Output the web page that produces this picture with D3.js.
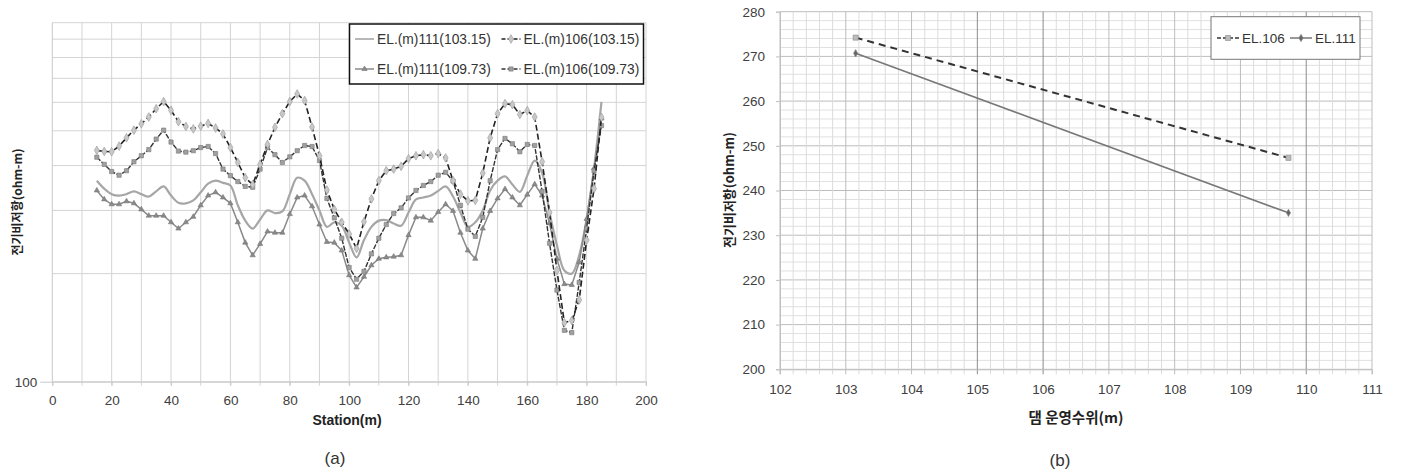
<!DOCTYPE html>
<html>
<head>
<meta charset="utf-8">
<script src="https://cdn.jsdelivr.net/npm/d3@7"></script>
<style>
  body { margin: 0; background: #fff; }
  svg text { font-family: "Liberation Sans", Arial, sans-serif; fill: #404040; }
  .kr { font-family: "Noto Sans CJK KR", sans-serif; font-weight: bold; fill: #222; }
</style>
</head>
<body>
<script>
const width = 1404,
      height = 471;

// ---------- chart (a) data ----------
const stations = [15,17.5,20,22.5,25,27.5,30,32.5,35,37.5,40,42.5,45,47.5,50,52.5,55,57.5,60,62.5,
  65,67.5,70,72.5,75,77.5,80,82.5,85,87.5,90,92.5,95,97.5,100,102.5,105,107.5,110,112.5,
  115,117.5,120,122.5,125,127.5,130,132.5,135,137.5,140,142.5,145,147.5,150,152.5,155,157.5,160,162.5,
  165,167.5,170,172.5,175,177.5,180,182.5,185];

const el111_10315 = [363,345,333,330,333,339,333,328,339,350,330,315,314,320,337,356,363,358,352,310,
  281,267,283,300,295,298,333,370,363,333,300,270,278,272,244,222,248,270,281,282,
  276,272,296,322,326,330,340,350,328,296,270,278,300,341,363,373,354,338,375,413,
  382,296,240,204,200,225,284,393,602];

const el106_10315 = [441,438,437,453,478,502,523,546,576,603,570,530,514,506,515,524,509,490,449,408,
  370,354,403,458,511,558,603,633,607,512,426,342,302,278,258,235,279,323,363,387,
  391,398,418,426,429,426,432,420,363,333,319,320,381,478,558,595,591,555,569,546,
  410,296,204,146,148,169,248,345,545];

const el111_10973 = [341,322,312,312,318,314,302,290,290,290,278,267,278,288,310,330,337,326,314,278,
  244,225,242,262,260,260,293,326,330,308,274,245,244,232,198,183,196,211,220,222,
  223,225,256,287,287,281,297,312,299,260,232,220,267,299,324,344,326,310,332,355,
  330,276,220,187,186,215,284,393,541];

const el106_10973 = [422,403,385,376,387,410,426,443,474,502,465,439,436,440,449,452,432,391,375,361,
  350,348,391,449,429,408,423,440,455,452,413,324,286,251,208,193,203,227,251,274,
  294,305,325,341,352,361,376,383,362,310,266,254,287,363,443,476,460,437,458,455,
  339,243,180,139,137,189,267,387,517];

const seriesA = [
  { name: "EL.(m)111(103.15)", values: el111_10315 },
  { name: "EL.(m)106(103.15)", values: el106_10315 },
  { name: "EL.(m)111(109.73)", values: el111_10973 },
  { name: "EL.(m)106(109.73)", values: el106_10973 }
];

// ---------- chart (b) data ----------
const waterLevels = [103.15, 109.73];
const el106 = [274.2, 247.3];
const el111 = [270.7, 235.0];

const svg = d3.select("body")
  .append("svg")
  .attr("width", width)
  .attr("height", height);

/* ------------- CHART (a) ------------ */

const xA = d3.scaleLinear().domain([0, 200]).range([52.3, 646]);
const yA = d3.scaleLog().domain([100, 1000]).range([381.7, 22.7]);

const ga = svg.append("g");

ga.append("g").selectAll("line")
  .data(d3.range(10, 201, 10))
  .enter().append("line")
  .attr("x1", d => xA(d)).attr("x2", d => xA(d))
  .attr("y1", yA(1000)).attr("y2", yA(100) + 4)
  .attr("stroke", "#d4d4d4").attr("stroke-width", 1);

ga.append("g").selectAll("line")
  .data(yA.ticks())
  .enter().append("line")
  .attr("x1", xA(0)).attr("x2", xA(200))
  .attr("y1", d => yA(d)).attr("y2", d => yA(d))
  .attr("stroke", "#d4d4d4").attr("stroke-width", 1);

ga.append("line")
  .attr("x1", xA(0)).attr("x2", xA(0))
  .attr("y1", yA(1000)).attr("y2", yA(100))
  .attr("stroke", "#c8c8c8");

const xAxisA = ga.append("g")
  .attr("transform", "translate(0," + yA(100) + ")")
  .call(d3.axisBottom(xA).tickValues(d3.range(0, 201, 20)).tickSize(4).tickPadding(10));
xAxisA.select(".domain").attr("stroke", "#c8c8c8");
xAxisA.selectAll(".tick line").attr("stroke", "#c8c8c8");
xAxisA.selectAll("text").style("font-size", "13.5px");

const yAxisA = ga.append("g")
  .attr("transform", "translate(" + xA(0) + ",0)")
  .call(d3.axisLeft(yA).tickValues([100]).tickFormat(d3.format("d")).tickSize(12).tickPadding(3));
yAxisA.select(".domain").remove();
yAxisA.selectAll(".tick line").attr("stroke", "#c8c8c8");
yAxisA.selectAll("text").style("font-size", "13.5px");

ga.append("text")
  .attr("x", 347).attr("y", 425)
  .attr("text-anchor", "middle")
  .style("font-size", "14px").style("font-weight", "bold").style("fill", "#222")
  .text("Station(m)");

ga.append("text")
  .attr("class", "kr")
  .attr("transform", "translate(22,202) rotate(-90)")
  .attr("text-anchor", "middle")
  .style("font-size", "12px")
  .text("전기비저항(ohm-m)");

ga.append("text")
  .attr("x", 335).attr("y", 464)
  .attr("text-anchor", "middle")
  .style("font-size", "17px").style("fill", "#333")
  .text("(a)");

const styleA = [
  { stroke: "#a6a6a6", width: 2.2, dash: null, curve: d3.curveCatmullRom.alpha(0.5), marker: null },
  { stroke: "#222", width: 1.6, dash: "6,3", curve: d3.curveLinear, marker: "diamond" },
  { stroke: "#8a8a8a", width: 1.5, dash: null, curve: d3.curveLinear, marker: "triangle" },
  { stroke: "#333", width: 1.4, dash: "5,1.5", curve: d3.curveLinear, marker: "square" }
];

const markerFill = { diamond: "#c8c8c8", square: "#a0a0a0", triangle: "#8a8a8a" };
const markerStroke = { diamond: "#999", square: "#777", triangle: "#777" };
const symbolType = { diamond: d3.symbolDiamond, square: d3.symbolSquare, triangle: d3.symbolTriangle };
const symbolSize = { diamond: 22, square: 18, triangle: 12 };

const drawOrder = [0, 2, 3, 1];
drawOrder.forEach(i => {
  const s = seriesA[i], st = styleA[i];
  const line = d3.line()
    .x((d, j) => xA(stations[j]))
    .y(d => yA(d))
    .curve(st.curve);
  ga.append("path")
    .datum(s.values)
    .attr("fill", "none")
    .attr("stroke", st.stroke)
    .attr("stroke-width", st.width)
    .attr("stroke-dasharray", st.dash)
    .attr("d", line);
  if (st.marker) {
    ga.append("g").selectAll("path")
      .data(s.values)
      .enter().append("path")
      .attr("transform", (d, j) => "translate(" + xA(stations[j]) + "," + yA(d) + ")")
      .attr("d", d3.symbol().type(symbolType[st.marker]).size(symbolSize[st.marker]))
      .attr("fill", markerFill[st.marker])
      .attr("stroke", markerStroke[st.marker])
      .attr("stroke-width", 0.6);
  }
});

// legend (a)
const legA = ga.append("g");
legA.append("rect")
  .attr("x", 349.5).attr("y", 24).attr("width", 294).attr("height", 60)
  .attr("fill", "#fff").attr("stroke", "#111").attr("stroke-width", 1.5);
const legPos = [[355, 39], [501.5, 39], [355, 69], [501.5, 69]];
seriesA.forEach((s, i) => {
  const st = styleA[i], p = legPos[i];
  legA.append("line")
    .attr("x1", p[0]).attr("x2", p[0] + 19)
    .attr("y1", p[1]).attr("y2", p[1])
    .attr("stroke", st.stroke).attr("stroke-width", Math.min(st.width, 1.6))
    .attr("stroke-dasharray", st.dash ? "4,2" : null);
  if (st.marker) {
    legA.append("path")
      .attr("transform", "translate(" + (p[0] + 9.5) + "," + p[1] + ")")
      .attr("d", d3.symbol().type(symbolType[st.marker]).size(symbolSize[st.marker]))
      .attr("fill", markerFill[st.marker])
      .attr("stroke", markerStroke[st.marker])
      .attr("stroke-width", 0.6);
  }
  legA.append("text")
    .attr("x", p[0] + 22).attr("y", p[1])
    .attr("dy", "0.35em")
    .style("font-size", "13.8px").style("fill", "#333")
    .text(s.name);
});

/* ------------- CHART (b) ------------ */

const xB = d3.scaleLinear().domain([102, 111]).range([780, 1372]);
const yB = d3.scaleLinear().domain([200, 280]).range([369.3, 11.7]);

const gb = svg.append("g");

// minor grid
gb.append("g").selectAll("line")
  .data(d3.range(200, 280.01, 2))
  .enter().append("line")
  .attr("x1", xB(102)).attr("x2", xB(111))
  .attr("y1", d => yB(d)).attr("y2", d => yB(d))
  .attr("stroke", d => (Math.round(d) % 10 === 0) ? "#bdbdbd" : "#e0e0e0")
  .attr("stroke-width", 1);

const darkX = [105, 106, 110];
gb.append("g").selectAll("line")
  .data(d3.range(102, 111.01, 0.2).map(v => Math.round(v * 10) / 10))
  .enter().append("line")
  .attr("x1", d => xB(d)).attr("x2", d => xB(d))
  .attr("y1", yB(280)).attr("y2", yB(200) + 5)
  .attr("stroke", d => darkX.includes(d) ? "#8c8c8c" : (Number.isInteger(d) ? "#bdbdbd" : "#dcdcdc"))
  .attr("stroke-width", 1);

const xAxisB = gb.append("g")
  .attr("transform", "translate(0," + yB(200) + ")")
  .call(d3.axisBottom(xB).ticks(9).tickSize(5).tickPadding(10));
xAxisB.select(".domain").attr("stroke", "#c0c0c0");
xAxisB.selectAll(".tick line").remove();
xAxisB.selectAll("text").style("font-size", "13.5px");

const yAxisB = gb.append("g")
  .attr("transform", "translate(" + xB(102) + ",0)")
  .call(d3.axisLeft(yB).ticks(8).tickSize(4).tickPadding(11));
yAxisB.select(".domain").attr("stroke", "#c0c0c0");
yAxisB.selectAll(".tick line").attr("stroke", "#c0c0c0");
yAxisB.selectAll("text").style("font-size", "13.5px");

gb.append("text")
  .attr("class", "kr")
  .attr("x", 1076).attr("y", 423)
  .attr("text-anchor", "middle")
  .style("font-size", "14.5px")
  .text("댐 운영수위(m)");

gb.append("text")
  .attr("class", "kr")
  .attr("transform", "translate(734,190) rotate(-90)")
  .attr("text-anchor", "middle")
  .style("font-size", "13px")
  .text("전기비저항(ohm-m)");

gb.append("text")
  .attr("x", 1060).attr("y", 466)
  .attr("text-anchor", "middle")
  .style("font-size", "17px").style("fill", "#333")
  .text("(b)");

const seriesB = [
  { name: "EL.106", values: el106, stroke: "#333", width: 2, dash: "7,5", marker: d3.symbolSquare, fill: "#bbb", size: 26 },
  { name: "EL.111", values: el111, stroke: "#777", width: 1.6, dash: null, marker: d3.symbolDiamond, fill: "#666", size: 16 }
];

seriesB.forEach(s => {
  const line = d3.line()
    .x((d, j) => xB(waterLevels[j]))
    .y(d => yB(d));
  gb.append("path")
    .datum(s.values)
    .attr("fill", "none")
    .attr("stroke", s.stroke)
    .attr("stroke-width", s.width)
    .attr("stroke-dasharray", s.dash)
    .attr("d", line);
  gb.append("g").selectAll("path")
    .data(s.values)
    .enter().append("path")
    .attr("transform", (d, j) => "translate(" + xB(waterLevels[j]) + "," + yB(d) + ")")
    .attr("d", d3.symbol().type(s.marker).size(s.size))
    .attr("fill", s.fill)
    .attr("stroke", "#888")
    .attr("stroke-width", 0.6);
});

// legend (b)
const legB = gb.append("g");
legB.append("rect")
  .attr("x", 1211).attr("y", 16.7).attr("width", 149).attr("height", 42.6)
  .attr("fill", "#fff").attr("stroke", "#777").attr("stroke-width", 1);
const legBX = [1217, 1290];
seriesB.forEach((s, i) => {
  const x0 = legBX[i], y0 = 38;
  legB.append("line")
    .attr("x1", x0).attr("x2", x0 + 22)
    .attr("y1", y0).attr("y2", y0)
    .attr("stroke", s.stroke).attr("stroke-width", 1.5)
    .attr("stroke-dasharray", s.dash ? "4,2" : null);
  legB.append("path")
    .attr("transform", "translate(" + (x0 + 11) + "," + y0 + ")")
    .attr("d", d3.symbol().type(s.marker).size(s.size))
    .attr("fill", s.fill).attr("stroke", "#888").attr("stroke-width", 0.6);
  legB.append("text")
    .attr("x", x0 + 25).attr("y", y0)
    .attr("dy", "0.35em")
    .style("font-size", "13.5px").style("fill", "#333")
    .text(s.name);
});
</script>
</body>
</html>
